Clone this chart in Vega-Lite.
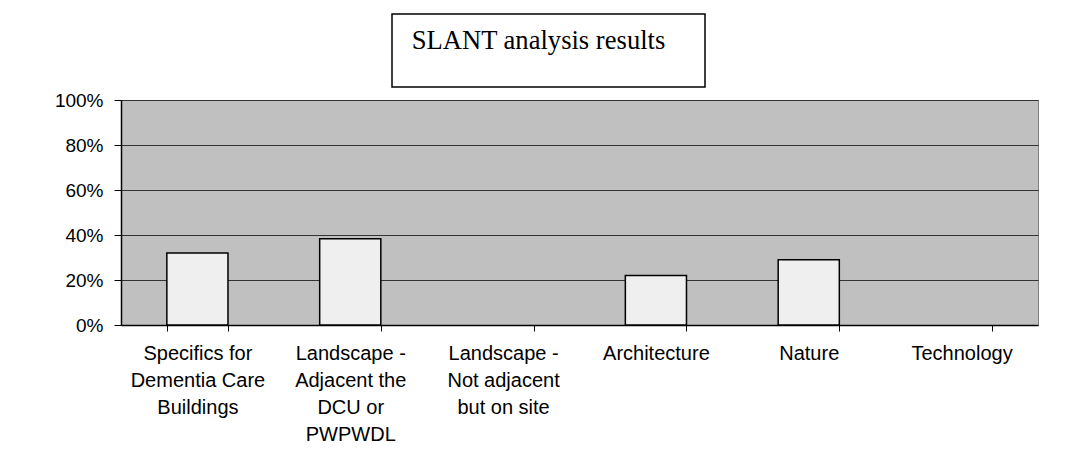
{
  "$schema": "https://vega.github.io/schema/vega-lite/v6.json",
  "padding": {"left": 53, "top": 13, "right": 0, "bottom": 0},
  "background": "white",
  "spacing": 2,
  "center": false,
  "config": {
    "font": "Liberation Sans",
    "axis": {"labelColor": "black", "labelFont": "Liberation Sans", "domainColor": "black", "tickColor": "black", "title": null}
  },
  "vconcat": [
    {
      "spacing": 0,
      "hconcat": [
        {
          "width": 270,
          "height": 73,
          "view": {"stroke": null, "fill": null},
          "data": {"values": []},
          "mark": {"type": "text"},
          "encoding": {}
        },
        {
          "width": 313,
          "height": 73,
          "view": {"stroke": "black", "strokeWidth": 1.5, "fill": "white"},
          "data": {"values": [{"title": "SLANT analysis results"}]},
          "mark": {"type": "text", "font": "Liberation Serif", "fontSize": 26.6, "color": "black", "align": "center", "baseline": "alphabetic", "dx": -10, "dy": -1.5},
          "encoding": {"text": {"field": "title"}}
        }
      ]
    },
    {
      "width": 917,
      "height": 225,
      "view": {"stroke": "#808080", "strokeWidth": 1, "fill": "#c0c0c0"},
      "data": {"values": [
        {"category": "Specifics for\nDementia Care\nBuildings", "value": 0.32},
        {"category": "Landscape -\nAdjacent the\nDCU or\nPWPWDL", "value": 0.383},
        {"category": "Landscape -\nNot adjacent\nbut on site", "value": 0},
        {"category": "Architecture", "value": 0.22},
        {"category": "Nature", "value": 0.29},
        {"category": "Technology", "value": 0}
      ]},
      "mark": {"type": "bar", "fill": "#efefef", "stroke": "black", "strokeWidth": 1.5},
      "encoding": {
        "x": {
          "field": "category", "type": "nominal", "sort": null,
          "scale": {"paddingInner": 0.6, "paddingOuter": 0.3},
          "axis": {"labelAngle": 0, "labelExpr": "split(datum.label, '\\n')", "labelFontSize": 20, "labelLineHeight": 27, "labelPadding": 12, "tickBand": "extent", "tickSize": 6, "labelLimit": 0, "domainWidth": 1.5}
        },
        "y": {
          "field": "value", "type": "quantitative",
          "scale": {"domain": [0, 1]},
          "axis": {"values": [0, 0.2, 0.4, 0.6, 0.8, 1], "format": ".0%", "labelFontSize": 19, "tickSize": 7, "labelPadding": 11, "grid": true, "gridColor": "#333333", "gridOpacity": 1, "gridWidth": 1, "domainWidth": 1.5}
        },
        "opacity": {"condition": {"test": "datum.value == 0", "value": 0}, "value": 1}
      }
    }
  ]
}
